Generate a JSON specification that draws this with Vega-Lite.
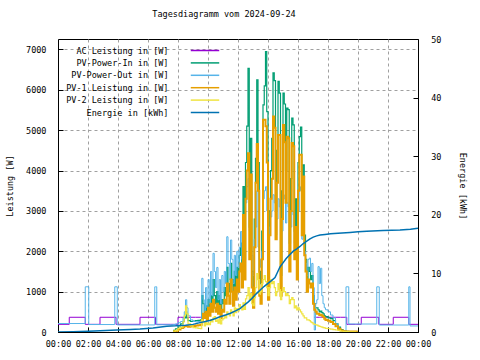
{
"$schema": "https://vega.github.io/schema/vega-lite/v6.json",
"width": 360, "height": 293,
"autosize": {"type": "none"},
"padding": {"left": 58, "top": 39, "right": 62, "bottom": 28},
"background": "white",
"title": {"text": "Tagesdiagramm vom 2024-09-24", "anchor": "middle", "frame": "group", "dx": -14, "offset": 17, "fontSize": 8.5, "fontWeight": "normal", "font": "DejaVu Sans Mono", "color": "black"},
"config": {
  "view": {"stroke": "black", "strokeWidth": 1},
  "font": "DejaVu Sans Mono",
  "axis": {"labelFont": "DejaVu Sans Mono", "labelFontSize": 8.5, "labelColor": "black", "titleFont": "DejaVu Sans Mono", "titleFontSize": 8.5, "titleFontWeight": "normal", "titleColor": "black", "domainColor": "black", "tickColor": "black", "gridColor": "#a0a0a0", "gridDash": [3, 3], "gridWidth": 1, "tickSize": -5, "labelPadding": 17}
},
"datasets": {
"pw": [
{"m":0,"g":1,"a":190,"o":210},
{"m":45,"g":1,"a":365,"o":210},
{"m":109,"g":1,"a":190,"o":1120},
{"m":123,"g":1,"a":190,"o":185},
{"m":168,"g":1,"a":365,"o":185},
{"m":227,"g":1,"a":365,"o":1120},
{"m":232,"g":1,"a":190,"o":1120},
{"m":237,"g":1,"a":190,"o":175},
{"m":328,"g":1,"a":365,"o":175},
{"m":387,"g":1,"a":365,"o":1120},
{"m":390,"g":1,"a":190,"o":1120},
{"m":395,"g":1,"a":190,"o":180},
{"m":450,"g":1,"a":190,"o":180},
{"m":460,"g":1,"a":190,"i":40,"o":185,"p1":10,"p2":20},
{"m":470,"g":1,"a":190,"i":80,"o":200,"p1":30,"p2":40},
{"m":480,"g":1,"a":365,"i":150,"o":230,"p1":60,"p2":90},
{"m":490,"g":1,"a":365,"i":200,"o":260,"p1":100,"p2":120},
{"m":500,"g":1,"a":365,"i":260,"o":350,"p1":120,"p2":250},
{"m":505,"g":1,"a":365,"i":350,"o":500,"p1":150,"p2":400},
{"m":510,"g":1,"a":365,"i":500,"o":800,"p1":150,"p2":650},
{"m":515,"g":1,"a":365,"i":350,"o":600,"p1":140,"p2":450},
{"m":520,"g":1,"a":365,"i":280,"o":400,"p1":130,"p2":200},
{"m":530,"g":1,"a":365,"i":260,"o":300,"p1":140,"p2":150},
{"m":540,"g":1,"a":365,"i":270,"o":260,"p1":150,"p2":110},
{"m":550,"g":1,"a":365,"i":280,"o":250,"p1":160,"p2":100},
{"m":560,"g":1,"a":365,"i":290,"o":260,"p1":170,"p2":90},
{"m":570,"g":1,"a":365,"i":300,"o":270,"p1":180,"p2":80},
{"m":575,"g":1,"a":365,"i":900,"o":1330,"p1":300,"p2":300},
{"m":580,"i":700,"o":800,"p1":450,"p2":250},
{"m":585,"i":450,"o":500,"p1":350,"p2":150},
{"m":590,"i":650,"o":1100,"p1":500,"p2":250},
{"m":595,"i":400,"o":600,"p1":300,"p2":180},
{"m":600,"i":800,"o":1300,"p1":600,"p2":220},
{"m":605,"i":500,"o":700,"p1":400,"p2":180},
{"m":610,"i":900,"o":1500,"p1":700,"p2":300},
{"m":615,"i":600,"o":900,"p1":500,"p2":250},
{"m":620,"i":1300,"o":1950,"p1":800,"p2":350},
{"m":625,"i":900,"o":1500,"p1":600,"p2":380},
{"m":630,"i":700,"o":1100,"p1":500,"p2":260},
{"m":635,"i":1000,"o":1600,"p1":700,"p2":300},
{"m":640,"i":600,"o":800,"p1":450,"p2":220},
{"m":645,"i":900,"o":1300,"p1":650,"p2":350},
{"m":650,"i":500,"o":700,"p1":350,"p2":200},
{"m":655,"i":800,"o":1400,"p1":550,"p2":300},
{"m":660,"i":700,"o":1000,"p1":500,"p2":330},
{"m":665,"i":1100,"o":1500,"p1":800,"p2":400},
{"m":670,"i":900,"o":1200,"p1":700,"p2":350},
{"m":675,"i":1600,"o":2360,"p1":1200,"p2":500},
{"m":680,"i":1200,"o":1700,"p1":900,"p2":450},
{"m":685,"i":1000,"o":1300,"p1":700,"p2":400},
{"m":690,"i":1700,"o":2280,"p1":1300,"p2":550},
{"m":695,"i":1300,"o":1800,"p1":1000,"p2":500},
{"m":700,"i":900,"o":1200,"p1":650,"p2":400},
{"m":705,"i":1500,"o":1900,"p1":1100,"p2":600},
{"m":710,"i":1100,"o":1400,"p1":800,"p2":480},
{"m":715,"i":1600,"o":2000,"p1":1300,"p2":580},
{"m":720,"i":1300,"o":1600,"p1":1000,"p2":520},
{"m":725,"i":1900,"o":2100,"p1":1500,"p2":680},
{"m":730,"i":2200,"o":2490,"p1":1700,"p2":620},
{"m":735,"i":1500,"o":1800,"p1":1100,"p2":550},
{"m":740,"i":3600,"o":2400,"p1":2900,"p2":720},
{"m":745,"i":1800,"o":1700,"p1":1300,"p2":560},
{"m":750,"i":4200,"o":3200,"p1":3300,"p2":820},
{"m":755,"i":5100,"o":3600,"p1":4000,"p2":900},
{"m":760,"i":6530,"o":3800,"p1":4430,"p2":1100},
{"m":765,"i":2600,"o":2500,"p1":1800,"p2":800},
{"m":770,"i":4800,"o":3500,"p1":3900,"p2":950},
{"m":775,"i":1500,"o":1900,"p1":1100,"p2":700},
{"m":780,"i":900,"o":1400,"p1":600,"p2":650},
{"m":785,"i":2800,"o":2300,"p1":2100,"p2":850},
{"m":790,"i":4300,"o":2600,"p1":3700,"p2":1100},
{"m":795,"i":6250,"o":3500,"p1":4660,"p2":1450},
{"m":800,"i":4200,"o":2100,"p1":3500,"p2":1300},
{"m":805,"i":1500,"o":1800,"p1":900,"p2":950},
{"m":810,"i":1200,"o":1600,"p1":700,"p2":1000},
{"m":815,"i":2500,"o":2000,"p1":1800,"p2":1200},
{"m":820,"i":5630,"o":3300,"p1":5260,"p2":1300},
{"m":825,"i":6100,"o":3500,"p1":5260,"p2":1400},
{"m":830,"i":6950,"o":3600,"p1":5100,"p2":1250},
{"m":835,"i":5460,"o":3000,"p1":4200,"p2":1100},
{"m":840,"i":1200,"o":1500,"p1":800,"p2":900},
{"m":845,"i":3000,"o":2600,"p1":2400,"p2":1100},
{"m":850,"i":4000,"o":2850,"p1":3300,"p2":1300},
{"m":855,"i":4800,"o":3000,"p1":3800,"p2":1200},
{"m":860,"i":6420,"o":3400,"p1":5340,"p2":1250},
{"m":865,"i":6230,"o":3200,"p1":5060,"p2":1100},
{"m":870,"i":3000,"o":2400,"p1":2300,"p2":900},
{"m":875,"i":4500,"o":2800,"p1":3700,"p2":1000},
{"m":880,"i":6210,"o":3300,"p1":4880,"p2":1200},
{"m":885,"i":5920,"o":3100,"p1":4880,"p2":1050},
{"m":890,"i":1400,"o":1600,"p1":900,"p2":800},
{"m":895,"i":3500,"o":2500,"p1":2800,"p2":1000},
{"m":900,"i":5920,"o":3400,"p1":5130,"p2":1100},
{"m":905,"i":5650,"o":3300,"p1":4700,"p2":1000},
{"m":910,"i":4000,"o":2700,"p1":3200,"p2":900},
{"m":915,"i":5550,"o":3200,"p1":4840,"p2":950},
{"m":920,"i":5510,"o":3100,"p1":4800,"p2":900},
{"m":925,"i":2200,"o":2000,"p1":1500,"p2":700},
{"m":930,"i":3800,"o":2600,"p1":3000,"p2":800},
{"m":935,"i":5300,"o":3000,"p1":4680,"p2":850},
{"m":940,"i":5130,"o":2900,"p1":4600,"p2":800},
{"m":945,"i":2500,"o":2200,"p1":1800,"p2":600},
{"m":950,"i":3300,"o":2580,"p1":2600,"p2":650},
{"m":955,"i":2000,"o":2580,"p1":1300,"p2":550},
{"m":960,"i":4200,"o":3000,"p1":3500,"p2":600},
{"m":965,"i":4840,"o":3600,"p1":4390,"p2":550},
{"m":970,"i":5080,"o":3500,"p1":4390,"p2":500},
{"m":975,"i":3000,"o":2300,"p1":2400,"p2":450},
{"m":980,"i":4140,"o":3000,"p1":3850,"p2":400},
{"m":985,"i":2400,"o":2000,"p1":1900,"p2":350},
{"m":990,"i":1800,"o":1700,"p1":1500,"p2":350},
{"m":995,"i":1300,"o":1400,"p1":1000,"p2":300},
{"m":1000,"i":1600,"o":1800,"p1":1300,"p2":300},
{"m":1005,"i":1500,"o":1830,"p1":1200,"p2":280},
{"m":1010,"i":1300,"o":1500,"p1":1100,"p2":250},
{"m":1015,"i":1400,"o":1700,"p1":1200,"p2":230},
{"m":1020,"i":900,"o":1100,"p1":700,"p2":200},
{"m":1025,"g":2,"a":365,"i":700,"o":50,"p1":550,"p2":190},
{"m":1030,"g":2,"a":365,"i":600,"o":700,"p1":500,"p2":180},
{"m":1035,"g":2,"a":365,"i":600,"o":800,"p1":450,"p2":170},
{"m":1040,"g":2,"a":365,"i":550,"o":1620,"p1":450,"p2":150},
{"m":1045,"g":2,"a":365,"i":500,"o":1200,"p1":420,"p2":140},
{"m":1050,"g":2,"a":365,"i":520,"o":1580,"p1":430,"p2":130},
{"m":1055,"g":2,"a":365,"i":480,"o":900,"p1":400,"p2":120},
{"m":1060,"g":2,"a":365,"i":450,"o":700,"p1":380,"p2":110},
{"m":1065,"g":2,"a":365,"i":400,"o":600,"p1":330,"p2":100},
{"m":1070,"g":2,"a":365,"i":380,"o":550,"p1":300,"p2":90},
{"m":1080,"g":2,"a":365,"i":350,"o":500,"p1":280,"p2":80},
{"m":1090,"g":2,"a":365,"i":330,"o":420,"p1":250,"p2":70},
{"m":1100,"g":2,"a":365,"i":280,"o":350,"p1":200,"p2":60},
{"m":1110,"g":2,"a":365,"i":200,"o":200,"p1":140,"p2":50},
{"m":1120,"g":2,"a":365,"i":120,"o":60,"p1":80,"p2":40},
{"m":1130,"g":2,"a":365,"i":60,"o":30,"p1":40,"p2":25},
{"m":1140,"g":2,"a":365,"i":30,"o":30,"p1":20,"p2":15},
{"m":1152,"g":2,"a":365,"i":15,"o":1120,"p1":15,"p2":8},
{"m":1155,"g":2,"a":190,"i":15,"o":1120,"p1":15,"p2":8},
{"m":1163,"g":2,"a":190,"i":10,"o":198,"p1":12,"p2":5},
{"m":1190,"g":2,"a":190,"i":5,"o":198,"p1":10,"p2":0},
{"m":1195,"g":2,"a":190,"i":0,"o":198,"p1":0,"p2":0},
{"m":1213,"g":2,"a":365,"o":198},
{"m":1275,"g":2,"a":365,"o":1120},
{"m":1283,"g":2,"a":190,"o":1120},
{"m":1285,"g":2,"a":190,"o":173},
{"m":1341,"g":2,"a":365,"o":173},
{"m":1403,"g":2,"a":190,"o":1120},
{"m":1408,"g":2,"a":190,"o":150},
{"m":1440,"g":2,"a":190,"o":150}
],
"en": [
{"m":0,"e":0.0},{"m":60,"e":0.05},{"m":120,"e":0.12},{"m":168,"e":0.22},{"m":235,"e":0.34},{"m":290,"e":0.42},{"m":328,"e":0.5},{"m":380,"e":0.7},{"m":435,"e":1.0},{"m":470,"e":1.05},{"m":510,"e":1.15},{"m":540,"e":1.3},{"m":568,"e":1.6},{"m":590,"e":1.8},{"m":610,"e":2.0},{"m":630,"e":2.3},{"m":648,"e":2.6},{"m":670,"e":2.9},{"m":690,"e":3.2},{"m":710,"e":3.6},{"m":728,"e":4.0},{"m":745,"e":4.6},{"m":760,"e":5.1},{"m":775,"e":5.7},{"m":788,"e":6.3},{"m":800,"e":6.8},{"m":812,"e":7.3},{"m":825,"e":7.8},{"m":840,"e":8.3},{"m":855,"e":8.8},{"m":868,"e":9.3},{"m":878,"e":10.2},{"m":888,"e":11.1},{"m":900,"e":11.8},{"m":912,"e":12.5},{"m":925,"e":13.1},{"m":941,"e":13.8},{"m":955,"e":14.2},{"m":968,"e":14.6},{"m":981,"e":15.1},{"m":995,"e":15.5},{"m":1008,"e":15.9},{"m":1021,"e":16.2},{"m":1035,"e":16.4},{"m":1048,"e":16.55},{"m":1068,"e":16.65},{"m":1090,"e":16.75},{"m":1120,"e":16.85},{"m":1168,"e":17.0},{"m":1200,"e":17.1},{"m":1235,"e":17.2},{"m":1300,"e":17.3},{"m":1368,"e":17.4},{"m":1410,"e":17.55},{"m":1440,"e":17.7}
]
},
"encoding": {
  "x": {"field": "m", "type": "quantitative", "scale": {"domain": [0, 1440], "nice": false},
        "axis": {"values": [0,120,240,360,480,600,720,840,960,1080,1200,1320,1440], "labelExpr": "timeFormat(datetime(2024,8,24,0,datum.value),'%H:%M')", "title": null, "grid": true, "labelPadding": 12, "labelFlush": false}}
},
"layer": [
  {
    "data": {"name": "pw"},
    "layer": [
      {"transform": [{"filter": "isValid(datum.a)"}],
       "mark": {"type": "line", "interpolate": "step-after", "strokeWidth": 1, "clip": true},
       "encoding": {
         "detail": {"field": "g", "type": "nominal"},
         "y": {"field": "a", "type": "quantitative", "scale": {"domain": [0, 7260], "nice": false}, "axis": {"values": [0,1000,2000,3000,4000,5000,6000,7000], "format": "d", "title": "Leistung [W]", "grid": true, "titlePadding": 11}},
         "color": {"datum": "AC Leistung in [W]", "type": "nominal",
           "scale": {"domain": ["AC Leistung in [W]", "PV-Power-In in [W]", "PV-Power-Out in [W]", "PV-1 Leistung in [W]", "PV-2 Leistung in [W]", "Energie in [kWh]"], "range": ["#9400d3", "#009e73", "#56b4e9", "#e69f00", "#f0e442", "#0072b2"]},
           "legend": {"title": null, "orient": "none", "legendX": 141.5, "legendY": 6, "symbolType": "M-3,0H3", "symbolSize": 90, "symbolStrokeWidth": 1.5, "labelAlign": "right", "labelOffset": -42, "labelFont": "DejaVu Sans Mono", "labelFontSize": 8.5, "labelColor": "black", "rowPadding": 2.4, "padding": 0, "labelLimit": 0}}
       }},
      {"transform": [{"filter": "isValid(datum.i)"}],
       "mark": {"type": "line", "interpolate": "step-after", "strokeWidth": 1.2, "clip": true},
       "encoding": {
         "y": {"field": "i", "type": "quantitative", "scale": {"domain": [0, 7260], "nice": false}, "axis": {"values": [0,1000,2000,3000,4000,5000,6000,7000], "format": "d", "title": "Leistung [W]", "grid": true, "titlePadding": 11}},
         "color": {"datum": "PV-Power-In in [W]", "type": "nominal"}
       }},
      {"transform": [{"filter": "isValid(datum.o)"}],
       "mark": {"type": "line", "interpolate": "step-after", "strokeWidth": 1, "clip": true},
       "encoding": {
         "y": {"field": "o", "type": "quantitative", "scale": {"domain": [0, 7260], "nice": false}, "axis": {"values": [0,1000,2000,3000,4000,5000,6000,7000], "format": "d", "title": "Leistung [W]", "grid": true, "titlePadding": 11}},
         "color": {"datum": "PV-Power-Out in [W]", "type": "nominal"}
       }},
      {"transform": [{"filter": "isValid(datum.p1)"}],
       "mark": {"type": "line", "interpolate": "step-after", "strokeWidth": 2, "clip": true},
       "encoding": {
         "y": {"field": "p1", "type": "quantitative", "scale": {"domain": [0, 7260], "nice": false}, "axis": {"values": [0,1000,2000,3000,4000,5000,6000,7000], "format": "d", "title": "Leistung [W]", "grid": true, "titlePadding": 11}},
         "color": {"datum": "PV-1 Leistung in [W]", "type": "nominal"}
       }},
      {"transform": [{"filter": "isValid(datum.p2)"}],
       "mark": {"type": "line", "interpolate": "step-after", "strokeWidth": 1.2, "clip": true},
       "encoding": {
         "y": {"field": "p2", "type": "quantitative", "scale": {"domain": [0, 7260], "nice": false}, "axis": {"values": [0,1000,2000,3000,4000,5000,6000,7000], "format": "d", "title": "Leistung [W]", "grid": true, "titlePadding": 11}},
         "color": {"datum": "PV-2 Leistung in [W]", "type": "nominal"}
       }}
    ]
  },
  {
    "data": {"name": "en"},
    "mark": {"type": "line", "strokeWidth": 1.5, "clip": true},
    "encoding": {
      "y": {"field": "e", "type": "quantitative", "scale": {"domain": [0, 50], "nice": false}, "axis": {"orient": "right", "values": [0,10,20,30,40,50], "title": "Energie [kWh]", "grid": false, "labelPadding": 17.7, "titlePadding": 17}},
      "color": {"datum": "Energie in [kWh]", "type": "nominal"}
    }
  }
],
"resolve": {"scale": {"y": "independent"}}
}
